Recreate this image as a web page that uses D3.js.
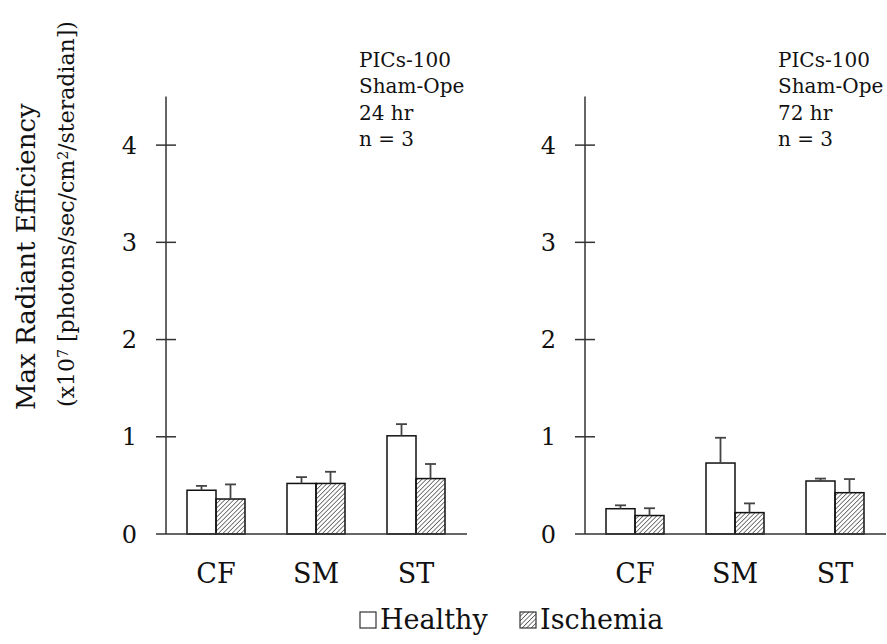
<!DOCTYPE html>
<html>
<head>
<meta charset="utf-8">
<script src="https://cdn.jsdelivr.net/npm/d3@7"></script>
<style>
  body { margin: 0; background: #fff; }
  text { font-family: "DejaVu Serif", serif; fill: #111; }
</style>
</head>
<body>
<script>
// data
const categories = ['CF', 'SM', 'ST'];
const seriesNames = ['Healthy', 'Ischemia'];
const yTicks = [0, 1, 2, 3, 4];

// 24 hr panel
const healthy24 = [0.45, 0.52, 1.01];
const healthy24Err = [0.045, 0.065, 0.12];
const ischemia24 = [0.36, 0.52, 0.57];
const ischemia24Err = [0.15, 0.12, 0.15];

// 72 hr panel
const healthy72 = [0.26, 0.73, 0.545];
const healthy72Err = [0.035, 0.26, 0.025];
const ischemia72 = [0.19, 0.22, 0.425];
const ischemia72Err = [0.075, 0.095, 0.14];

const panels = [
  {left: 166, right: 467, note: ['PICs-100', 'Sham-Ope', '24 hr', 'n = 3'],
   values: [healthy24, ischemia24], errors: [healthy24Err, ischemia24Err]},
  {left: 585, right: 886, note: ['PICs-100', 'Sham-Ope', '72 hr', 'n = 3'],
   values: [healthy72, ischemia72], errors: [healthy72Err, ischemia72Err]}
];

const W = 887, H = 644;
const svg = d3.select('body').append('svg')
  .attr('width', W)
  .attr('height', H);

// hatch pattern for ischemia
const defs = svg.append('defs');
defs.append('pattern')
  .attr('id', 'hatch')
  .attr('patternUnits', 'userSpaceOnUse')
  .attr('width', 3.2).attr('height', 3.2)
  .attr('patternTransform', 'rotate(45)')
  .append('line')
    .attr('x1', 0).attr('y1', 0).attr('x2', 0).attr('y2', 3.2)
    .attr('stroke', '#222')
    .attr('stroke-width', 1.2);

const fills = ['#fff', 'url(#hatch)'];

const y = d3.scaleLinear().domain([0, 4.5]).range([534, 96.5]);

panels.forEach(p => {
  const g = svg.append('g');
  const x = d3.scaleBand()
    .domain(categories)
    .range([p.left, p.right - 1])
    .paddingInner(0.42)
    .paddingOuter(0.21);
  const xs = d3.scaleBand()
    .domain(seriesNames)
    .range([0, x.bandwidth()]);

  // axis line
  g.append('line')
    .attr('x1', p.left).attr('x2', p.left)
    .attr('y1', y(4.5)).attr('y2', y(0))
    .attr('stroke', '#333').attr('stroke-width', 1.5);
  // ticks crossing the axis
  g.selectAll('.tick').data(yTicks.slice(1)).enter()
    .append('line')
    .attr('x1', p.left - 10).attr('x2', p.left + 10)
    .attr('y1', d => y(d)).attr('y2', d => y(d))
    .attr('stroke', '#333').attr('stroke-width', 1.5);
  g.selectAll('.tl').data(yTicks).enter()
    .append('text')
    .attr('x', p.left - 29)
    .attr('y', d => y(d))
    .attr('dy', '0.36em')
    .attr('text-anchor', 'end')
    .style('font-size', '24px')
    .text(d => d);

  // bars
  seriesNames.forEach((s, i) => {
    g.selectAll('.bar' + i).data(categories).enter()
      .append('rect')
      .attr('x', d => x(d) + xs(s))
      .attr('y', (d, j) => y(p.values[i][j]))
      .attr('width', xs.bandwidth())
      .attr('height', (d, j) => y(0) - y(p.values[i][j]))
      .attr('fill', fills[i])
      .attr('stroke', '#111')
      .attr('stroke-width', 1.5);
    // upper error bars
    const eb = g.selectAll('.err' + i).data(categories).enter().append('g');
    eb.append('line')
      .attr('x1', d => x(d) + xs(s) + xs.bandwidth() / 2)
      .attr('x2', d => x(d) + xs(s) + xs.bandwidth() / 2)
      .attr('y1', (d, j) => y(p.values[i][j]))
      .attr('y2', (d, j) => y(p.values[i][j] + p.errors[i][j]))
      .attr('stroke', '#444').attr('stroke-width', 1.8);
    eb.append('line')
      .attr('x1', d => x(d) + xs(s) + xs.bandwidth() / 2 - 5.5)
      .attr('x2', d => x(d) + xs(s) + xs.bandwidth() / 2 + 5.5)
      .attr('y1', (d, j) => y(p.values[i][j] + p.errors[i][j]))
      .attr('y2', (d, j) => y(p.values[i][j] + p.errors[i][j]))
      .attr('stroke', '#444').attr('stroke-width', 1.8);
  });

  // baseline
  g.append('line')
    .attr('x1', p.left - 10).attr('x2', p.right)
    .attr('y1', y(0)).attr('y2', y(0))
    .attr('stroke', '#333').attr('stroke-width', 1.5);

  // category labels
  g.selectAll('.cat').data(categories).enter()
    .append('text')
    .attr('x', d => x(d) + x.bandwidth() / 2)
    .attr('y', 583)
    .attr('text-anchor', 'middle')
    .style('font-size', '27px')
    .text(d => d);

  // note
  g.selectAll('.note').data(p.note).enter()
    .append('text')
    .attr('x', p.left + 193)
    .attr('y', (d, i) => 67 + i * 26.4)
    .style('font-size', '20px')
    .text(d => d);
});

// y axis title
const yt = svg.append('text')
  .attr('transform', 'translate(35,410) rotate(-90)')
  .style('font-size', '26px');
yt.append('tspan').text('Max Radiant Efficiency');
const yt2 = svg.append('text')
  .attr('transform', 'translate(74,407) rotate(-90)')
  .style('font-size', '22px');
yt2.append('tspan').text('(x10');
yt2.append('tspan').attr('baseline-shift', '40%').style('font-size', '14px').text('7');
yt2.append('tspan').text(' [photons/sec/cm');
yt2.append('tspan').attr('baseline-shift', '40%').style('font-size', '14px').text('2');
yt2.append('tspan').text('/steradian])');

// legend
const leg = svg.append('g');
seriesNames.forEach((s, i) => {
  const lx = [360, 520][i];
  leg.append('rect')
    .attr('x', lx).attr('y', 612)
    .attr('width', 16).attr('height', 16)
    .attr('fill', fills[i])
    .attr('stroke', '#333').attr('stroke-width', 1.2);
  leg.append('text')
    .attr('x', lx + 20).attr('y', 629)
    .style('font-size', '27px')
    .text(s);
});
</script>
</body>
</html>
